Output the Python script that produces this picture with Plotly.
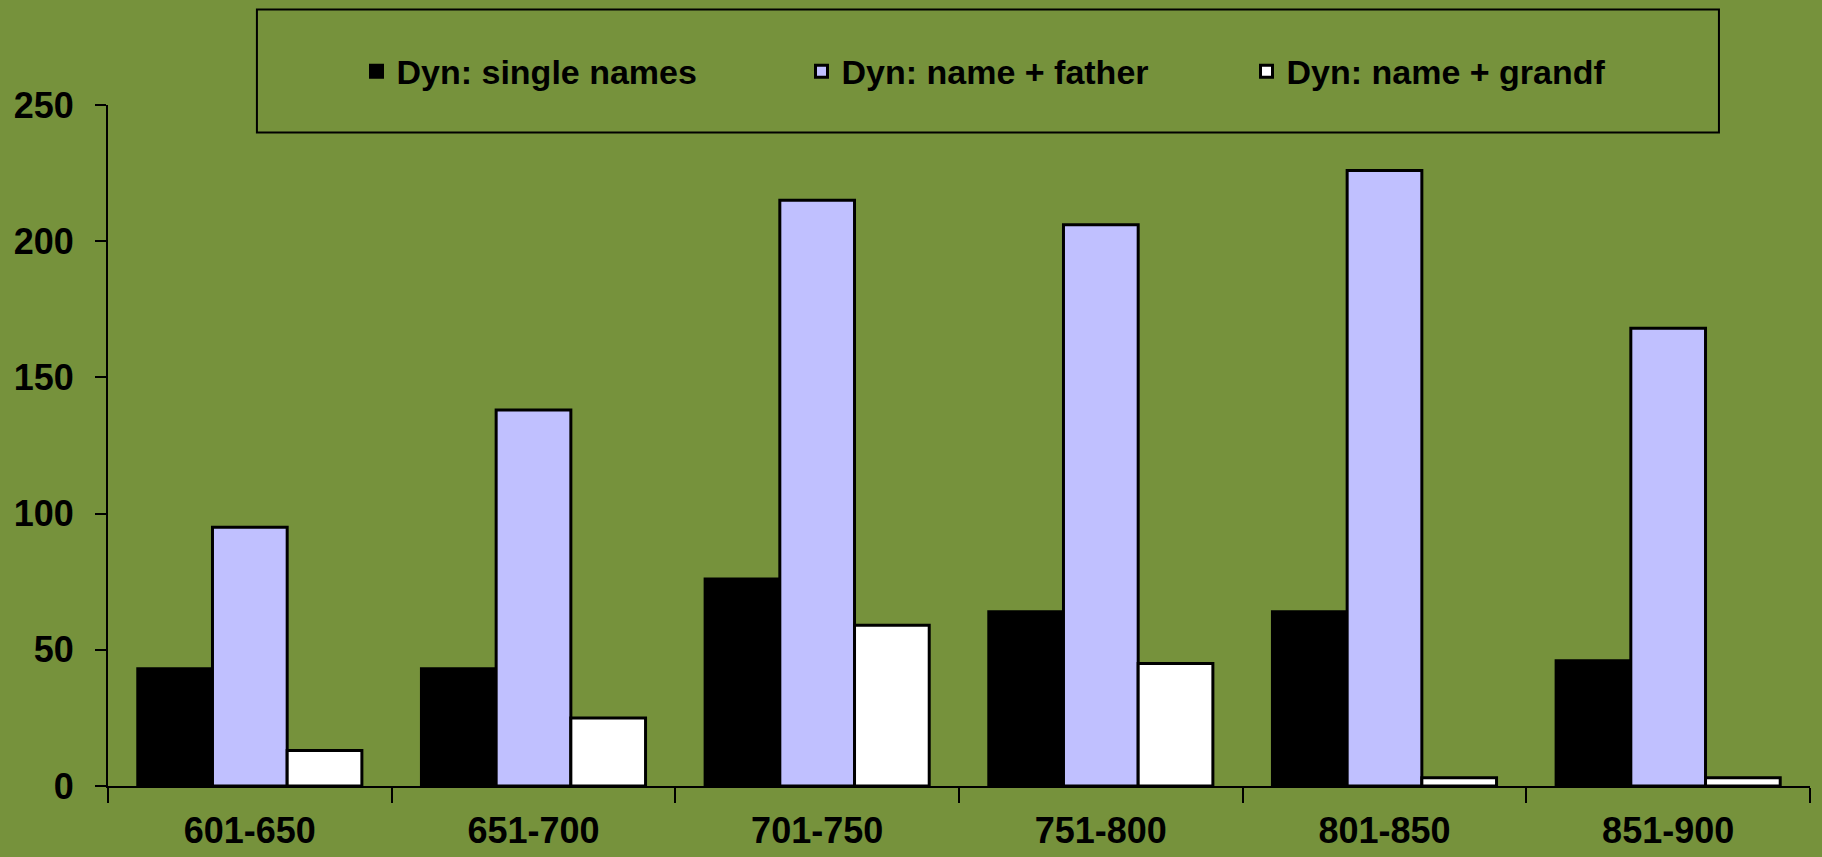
import plotly.graph_objects as go

categories = ["601-650", "651-700", "701-750", "751-800", "801-850", "851-900"]
single_names = [43, 43, 76, 64, 64, 46]
name_father = [95, 138, 215, 206, 226, 168]
name_grandf = [13, 25, 59, 45, 3, 3]
series_names = ["Dyn: single names", "Dyn: name + father", "Dyn: name + grandf"]
y_ticks = [0, 50, 100, 150, 200, 250]

BG = "#76923C"
FONT = "Arial, Liberation Sans, sans-serif"

fig = go.Figure()
for name, vals, color in zip(series_names, [single_names, name_father, name_grandf],
                             ["#000000", "#C0C0FF", "#FFFFFF"]):
    fig.add_trace(go.Bar(
        x=categories, y=vals, name=name,
        marker=dict(color=color, line=dict(color="#000000", width=3)),
    ))

fig.update_layout(
    width=1822, height=857,
    margin=dict(l=108, r=12, t=105, b=71, autoexpand=False),
    paper_bgcolor=BG, plot_bgcolor=BG,
    barmode="group", bargap=0.21, bargroupgap=0,
    font=dict(family=FONT, color="#000000", weight="bold"),
    showlegend=True,
    legend=dict(
        orientation="h", x=0.146, xanchor="left", y=1.049, yanchor="middle",
        font=dict(family=FONT, size=34, color="#000000", weight="bold"),
        bgcolor="rgba(0,0,0,0)", borderwidth=0,
        entrywidth=400, entrywidthmode="pixels",
        traceorder="normal",
    ),
    shapes=[dict(type="rect", xref="paper", yref="paper",
                 x0=0.0875, x1=0.9465, y0=0.9596, y1=1.1402,
                 line=dict(color="#000000", width=2), fillcolor="rgba(0,0,0,0)",
                 layer="below")],
    xaxis=dict(
        showline=True, linecolor="#000000", linewidth=2, automargin=False,
        ticks="outside", tickson="boundaries", ticklen=15, tickwidth=2, tickcolor="#000000",
        tickfont=dict(family=FONT, size=36, color="#000000", weight="bold"),
        ticklabelstandoff=12, showgrid=False, zeroline=False,
    ),
    yaxis=dict(
        range=[0, 250], tickvals=y_ticks, automargin=False,
        showline=True, linecolor="#000000", linewidth=2,
        ticks="outside", ticklen=11, tickwidth=2, tickcolor="#000000",
        tickfont=dict(family=FONT, size=36, color="#000000", weight="bold"),
        ticklabelstandoff=14, showgrid=False, zeroline=False,
    ),
)

fig.write_html(
    "out.html",
    config={"displayModeBar": False},
    post_script="document.body.style.margin='0';document.body.style.background='%s';" % BG,
)
